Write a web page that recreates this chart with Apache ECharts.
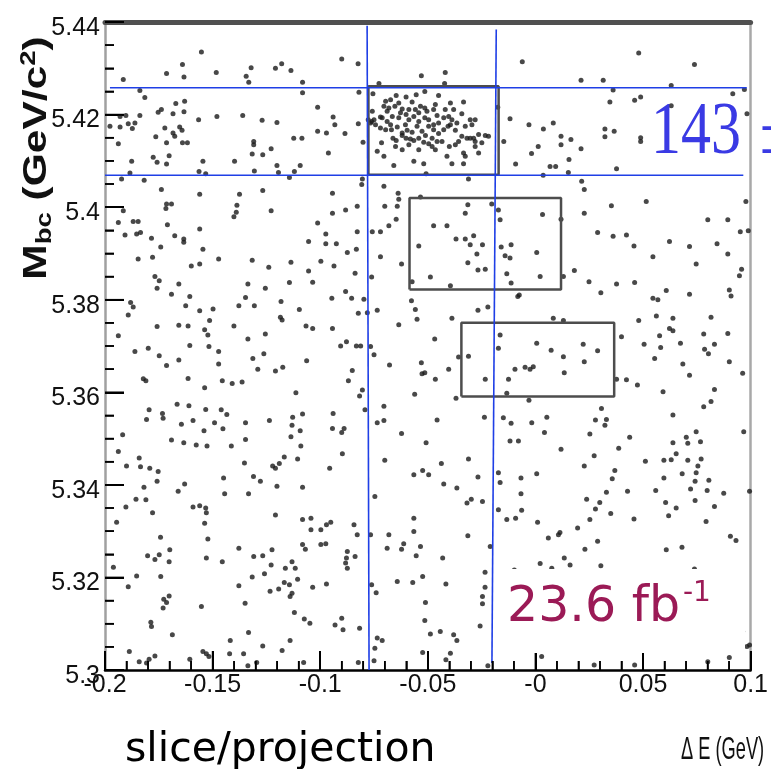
<!DOCTYPE html>
<html>
<head>
<meta charset="utf-8">
<script src="https://cdn.jsdelivr.net/npm/echarts@6/dist/echarts.min.js"></script>
<style>
  html, body { margin: 0; padding: 0; background: #fff; }
  #chart { width: 771px; height: 769px; }
</style>
</head>
<body>
<div id="chart"></div>
<script>
// B candidates: [ΔE (MeV), Mbc (MeV/c²)]
const sidebandUpperLeft = [
  [-155.2,5433.5],[-164.0,5430.8],[-171.4,5428.9],[-163.3,5428.1],[-148.3,5429.1],[-132.1,5430.1],[-134.4,5428.3],[-133.2,5427.0],
  [-120.8,5430.0],[-117.9,5431.0],[-113.6,5429.5],[-191.5,5427.6],[-108.2,5427.0],[-108.2,5424.7],[-183.8,5425.2],[-181.5,5423.7],
  [-101.2,5421.6],[-163.0,5422.9],[-163.3,5420.6],[-167.1,5422.4],[-173.8,5421.1],[-175.3,5420.5],[-168.4,5420.2],[-193.0,5419.6],
  [-190.3,5419.8],[-183.8,5419.8],[-156.5,5418.9],[-148.0,5419.6],[-136.0,5419.8],[-127.0,5418.8],[-120.1,5418.3],[-197.7,5417.5],
  [-193.0,5417.3],[-189.2,5418.0],[-186.1,5418.2],[-187.3,5417.0],[-172.2,5417.1],[-165.3,5417.3],[-164.2,5416.6],[-168.4,5416.0],
  [-167.6,5415.3],[-176.4,5415.2],[-171.4,5413.9],[-164.0,5413.9],[-161.7,5413.9],[-101.2,5416.4],[-112.3,5414.9],[-108.5,5414.9],
  [-193.8,5413.7],[-130.9,5414.2],[-130.9,5413.5],[-122.8,5412.6],[-126.7,5411.3],[-131.6,5411.5],[-177.6,5410.8],[-175.8,5409.7],
  [-170.2,5411.1],[-171.4,5409.3],[-187.6,5409.9],[-154.5,5409.9],[-139.8,5409.9],[-120.1,5409.0],[-119.4,5407.5],[-109.3,5409.0],
  [-112.0,5407.7],[-130.6,5407.8],[-156.3,5407.7],[-153.2,5407.2],[-188.4,5407.4],[-192.3,5406.1],[-181.8,5405.8],[-114.3,5406.4],
  [-173.8,5403.8],[-156.0,5402.8],[-126.7,5403.6],[-137.5,5402.8],[-171.4,5400.7],[-169.1,5400.7],[-171.7,5399.7],[-138.7,5400.4],
  [-139.0,5398.9],[-140.1,5397.9],[-122.8,5399.2],[-191.5,5399.2],[-193.8,5396.7],[-186.9,5396.9],[-184.6,5396.9],[-171.0,5396.2],
  [-156.0,5395.3],[-101.2,5396.6]
];
const sidebandUpperMid = [
  [-90.0,5432.0],[-82.4,5431.0],[-6.1,5431.4],[-53.0,5428.4],[-41.9,5429.1],[-42.2,5426.7],[-72.7,5426.7],[-82.0,5424.8],
  [-94.0,5419.5],[-93.2,5417.8],[-97.1,5416.0],[-88.5,5415.9],[-96.2,5411.7],[-82.3,5418.0],[-80.1,5414.0],[-11.8,5419.1],
  [-3.0,5417.8],[-14.7,5414.2],[1.3,5413.1],[-1.8,5411.6],[-9.2,5409.3],[-17.5,5421.6],[-50.8,5407.2],[-31.1,5406.1],
  [-80.4,5406.1],[-80.7,5404.9],[-94.3,5403.0],[-88.2,5399.4],[-94.3,5398.7],[-82.8,5400.2],[-70.4,5404.5],[-63.8,5403.0],
  [-63.5,5401.7],[-70.0,5400.2],[-64.2,5400.2],[-64.7,5397.4],[-68.1,5396.0],[-53.4,5402.2],[-47.3,5396.0],[-41.1,5396.0],
  [-32.6,5398.7],[-31.4,5400.5],[-20.3,5400.7],[-17.2,5399.4],[-16.4,5397.3]
];
const signalRegion = [
  [-75.5,5424.5],[-64.7,5424.1],[-60.1,5423.8],[-55.4,5424.3],[-51.4,5425.0],[-45.0,5424.1],[-39.5,5422.5],[-33.4,5422.7],
  [-69.6,5422.9],[-67.3,5423.2],[-63.5,5422.5],[-57.3,5422.7],[-70.4,5421.8],[-68.1,5421.4],[-65.3,5421.8],[-61.9,5421.2],
  [-58.8,5421.1],[-55.8,5421.1],[-53.4,5421.8],[-51.4,5421.4],[-50.4,5420.7],[-46.5,5422.2],[-41.9,5421.1],[-38.0,5421.1],
  [-34.2,5420.2],[-30.3,5418.9],[-28.0,5418.9],[-72.0,5419.5],[-75.0,5418.9],[-75.8,5420.7],[-71.2,5419.3],[-68.9,5418.5],
  [-66.5,5419.6],[-63.5,5419.3],[-60.1,5420.0],[-58.8,5418.9],[-56.5,5419.6],[-54.2,5418.5],[-51.4,5419.3],[-49.6,5418.9],
  [-47.3,5417.8],[-45.0,5418.2],[-42.6,5419.3],[-40.3,5419.6],[-38.8,5418.9],[-36.5,5418.2],[-32.6,5417.5],[-29.5,5417.8],
  [-74.3,5417.8],[-76.6,5418.2],[-72.0,5417.1],[-69.6,5416.7],[-66.9,5416.7],[-64.2,5417.3],[-61.9,5416.0],[-59.6,5416.6],
  [-57.3,5416.2],[-55.0,5417.5],[-52.7,5416.4],[-49.6,5417.5],[-47.3,5416.7],[-45.0,5415.9],[-42.6,5416.7],[-40.6,5417.5],
  [-37.2,5416.6],[-34.2,5415.3],[-31.8,5414.9],[-28.7,5414.9],[-26.4,5415.7],[-23.3,5415.5],[-21.8,5415.3],[-73.5,5412.1],
  [-71.5,5413.9],[-66.2,5414.9],[-64.7,5414.4],[-61.9,5415.5],[-60.1,5414.9],[-58.8,5413.5],[-56.5,5414.4],[-54.2,5414.9],
  [-51.9,5414.0],[-49.6,5413.7],[-48.0,5413.1],[-45.7,5414.2],[-43.4,5414.2],[-40.0,5413.1],[-37.2,5413.5],[-35.7,5414.2],
  [-33.4,5411.7],[-30.3,5414.9],[-28.0,5413.1],[-26.4,5411.7],[-24.9,5413.9],[-65.8,5409.0],[-56.5,5409.9],[-51.9,5409.4],
  [-38.8,5409.4],[-33.4,5409.4],[-32.6,5411.0],[-77.7,5418.9],[-76.1,5418.5],[-62.7,5420.4],[-54.2,5420.4],[-45.7,5419.8],
  [-67.3,5417.8],[-60.4,5417.8],[-51.1,5415.5],[-48.0,5414.9],[-58.1,5414.7],[-65.0,5413.1],[-61.9,5412.4],[-54.2,5412.4],
  [-41.1,5411.0],[-28.0,5414.2],[-68.9,5420.7],[-47.3,5421.1],[-39.5,5417.8],[-46.5,5412.4],[-70.4,5411.0]
];
const sidebandUpperRight = [
  [48.0,5433.3],[73.9,5430.8],[21.2,5427.4],[31.5,5427.4],[63.1,5426.3],[36.1,5425.3],[34.6,5422.7],[48.9,5423.8],
  [46.1,5423.1],[91.7,5424.5],[97.1,5425.4],[63.1,5421.9],[98.3,5420.2],[8.3,5418.2],[3.7,5416.9],[11.9,5415.3],
  [11.9,5413.5],[16.5,5414.6],[21.2,5412.6],[32.3,5416.9],[32.3,5415.2],[36.6,5416.4],[48.9,5415.0],[48.9,5414.2],
  [15.6,5410.3],[6.8,5408.8],[9.4,5408.8],[15.3,5407.5],[3.6,5406.9],[37.7,5408.3],[21.5,5405.6],[22.7,5403.8],
  [35.3,5400.3],[51.5,5401.2],[97.8,5401.2],[80.1,5397.3],[89.4,5397.3],[3.3,5398.4],[11.9,5397.4],[22.7,5398.7]
];
const sidebandMiddleLeft = [
  [-190.7,5394.0],[-185.3,5394.2],[-183.5,5394.5],[-178.4,5393.3],[-167.6,5393.8],[-163.4,5393.1],[-163.4,5392.4],[-105.4,5392.6],
  [-174.1,5391.4],[-154.5,5390.9],[-184.6,5388.8],[-177.9,5389.2],[-159.9,5387.3],[-156.0,5387.7],[-147.2,5388.8],[-131.6,5388.5],
  [-123.9,5387.0],[-113.6,5388.1],[-105.4,5386.2],[-176.8,5385.0],[-174.8,5384.1],[-175.8,5382.5],[-165.7,5383.4],[-169.1,5381.2],
  [-133.6,5383.4],[-125.5,5382.5],[-114.3,5383.7],[-103.5,5383.8],[-160.6,5380.7],[-162.5,5378.7],[-156.0,5377.6],[-149.8,5378.0],
  [-137.8,5378.7],[-130.6,5378.7],[-134.7,5380.5],[-118.2,5379.6],[-109.7,5377.9],[-188.1,5379.4],[-186.9,5378.4],[-189.2,5376.7],
  [-175.8,5374.2],[-165.7,5374.5],[-161.4,5374.3],[-151.4,5375.5],[-153.7,5373.5],[-152.2,5372.4],[-140.1,5374.3],[-133.6,5371.5],
  [-125.5,5372.6],[-118.5,5376.2],[-117.7,5375.6],[-106.6,5374.3],[-103.5,5373.8],[-193.8,5372.2],[-160.6,5370.1],[-151.7,5369.9],
  [-147.2,5368.8],[-147.2,5366.1],[-186.1,5368.8],[-179.9,5369.5],[-174.8,5367.9],[-165.7,5367.0],[-171.4,5365.8],[-131.3,5367.3],
  [-126.2,5368.3],[-117.4,5365.4],[-129.0,5365.0],[-120.8,5364.6],[-106.3,5366.8],[-182.2,5362.9],[-181.0,5362.5],[-161.4,5363.0],
  [-153.7,5361.0],[-145.5,5362.5],[-140.9,5361.9],[-136.3,5362.2],[-111.3,5359.9],[-166.5,5357.4],[-161.0,5357.1],[-153.2,5356.3],
  [-179.5,5356.2],[-180.7,5354.1],[-173.3,5355.4],[-173.0,5354.4],[-164.5,5353.1],[-159.1,5353.9],[-146.0,5356.2],[-143.4,5355.2],
  [-149.1,5353.4],[-145.2,5352.1],[-134.7,5353.4],[-134.7,5349.8],[-123.6,5353.9],[-112.8,5354.6],[-113.1,5352.9],[-108.2,5355.3],
  [-109.3,5351.7],[-113.6,5350.4],[-191.8,5350.8],[-154.0,5351.7],[-169.1,5349.7],[-163.4,5349.1],[-157.6,5348.6],[-152.6,5348.4],
  [-141.3,5348.4],[-109.0,5348.4]
];
const sidebandMiddle = [
  [-97.4,5394.2],[-97.4,5392.1],[-92.5,5392.1],[-87.4,5390.2],[-83.2,5390.9],[-99.7,5388.3],[-93.6,5387.3],[-83.8,5385.7],
  [-76.1,5384.9],[-72.0,5389.3],[-62.2,5387.7],[-82.8,5394.7],[-75.8,5394.7],[-72.0,5394.7],[-54.2,5391.6],[-36.9,5393.1],
  [-32.6,5393.1],[-30.3,5391.9],[-28.7,5393.8],[-24.6,5391.9],[-27.2,5389.9],[-31.4,5388.0],[-26.7,5386.4],[-23.3,5386.6],
  [-48.8,5384.9],[-57.3,5383.9],[-39.5,5383.0],[-15.9,5391.4],[-14.1,5389.5],[-11.3,5391.9],[-11.8,5389.0],[0.6,5390.2],
  [-13.3,5385.6],[-11.3,5383.6],[-8.2,5380.7],[-7.5,5381.0],[-94.6,5380.3],[-88.2,5381.8],[-85.4,5380.3],[-79.7,5380.1],
  [-82.3,5377.1],[-78.1,5377.2],[-73.5,5377.7],[-57.6,5379.8],[-55.8,5377.9],[-55.0,5375.8],[-26.7,5377.7],[-22.1,5378.4],
  [-38.8,5376.0],[-63.5,5374.6],[-94.3,5373.8],[-87.8,5370.9],[-90.5,5370.0],[-83.2,5370.0],[-81.2,5370.0],[-76.6,5369.9],
  [-75.0,5368.1],[-67.8,5365.9],[-85.1,5364.7],[-86.9,5362.5],[-80.4,5360.5],[-81.7,5359.2],[-79.2,5356.2],[-46.8,5371.5],
  [-53.0,5366.4],[-52.7,5364.0],[-51.4,5364.2],[-46.5,5362.8],[-40.3,5365.0],[-35.7,5367.6],[-31.1,5367.8],[-56.1,5359.6],
  [-36.9,5358.7],[-16.4,5372.4],[-17.2,5369.5],[-23.3,5362.8],[-12.5,5362.8],[-9.5,5365.0],[-4.8,5365.4],[-2.5,5365.0],
  [-1.0,5365.5],[0.6,5370.6],[-13.3,5359.8],[-3.0,5358.3],[-70.4,5357.0],[-70.4,5353.9],[-73.5,5353.4],[-62.2,5351.1],
  [-50.8,5349.1],[-45.7,5354.0],[-94.0,5355.4],[-94.3,5352.2],[-88.9,5352.2],[-90.0,5351.3],[-23.7,5354.6],[-14.9,5354.5],
  [-11.3,5353.3],[-1.7,5353.4],[-11.8,5349.5],[-7.9,5349.5]
];
const sidebandMiddleRight = [
  [28.9,5394.5],[36.1,5393.7],[42.3,5394.0],[45.8,5391.6],[62.3,5392.6],[71.6,5391.5],[84.4,5392.1],[89.4,5389.9],
  [95.2,5394.7],[98.9,5394.9],[54.6,5389.3],[74.7,5387.7],[95.8,5386.6],[94.8,5385.2],[18.1,5386.3],[24.9,5383.9],
  [37.7,5383.4],[46.1,5383.7],[30.4,5381.5],[60.8,5382.0],[71.6,5381.2],[90.1,5382.1],[90.9,5380.8],[54.6,5380.3],
  [56.9,5380.0],[13.0,5385.0],[2.2,5385.0],[8.3,5376.0],[13.0,5375.5],[48.0,5375.5],[56.2,5376.5],[63.9,5376.0],
  [81.6,5376.2],[62.3,5373.8],[63.9,5373.3],[40.0,5372.0],[57.7,5372.2],[50.5,5370.4],[58.2,5369.7],[67.4,5370.6],
  [78.2,5372.6],[89.4,5372.7],[83.2,5370.4],[78.6,5369.3],[80.4,5368.3],[55.4,5367.3],[68.5,5366.1],[71.6,5363.7],
  [90.1,5366.6],[96.3,5364.1],[7.3,5369.1],[13.0,5367.7],[22.2,5370.4],[28.9,5369.0],[22.7,5366.6],[13.4,5364.2],
  [37.7,5362.8],[42.3,5362.7],[47.4,5361.6],[59.3,5360.1],[83.2,5360.6],[81.6,5358.0],[78.2,5356.9],[30.7,5356.5],
  [27.9,5354.0],[33.0,5354.1],[32.3,5352.9],[5.3,5354.6],[4.2,5351.3],[25.3,5351.0],[43.8,5350.3],[63.9,5355.1],
  [74.7,5351.5],[70.1,5350.3],[70.8,5349.0],[76.7,5349.3],[63.9,5349.1],[96.8,5351.5],[11.9,5347.7],[38.7,5347.9]
];
const sidebandLowerLeft = [
  [-193.8,5347.2],[-184.1,5345.8],[-190.0,5344.1],[-183.5,5343.9],[-179.2,5343.6],[-175.3,5342.9],[-175.8,5340.8],[-181.9,5339.5],
  [-166.0,5338.6],[-163.0,5340.2],[-144.9,5341.5],[-144.4,5338.1],[-135.2,5344.7],[-131.0,5341.8],[-127.8,5340.8],[-133.3,5338.1],
  [-122.1,5344.1],[-120.8,5343.6],[-119.0,5344.6],[-116.7,5346.0],[-110.5,5345.6],[-120.1,5339.7],[-108.2,5339.5],[-185.6,5336.9],
  [-181.0,5336.8],[-190.3,5335.2],[-177.9,5334.0],[-159.1,5335.2],[-156.0,5335.5],[-153.2,5335.0],[-152.9,5334.0],[-153.7,5331.7],
  [-120.8,5333.5],[-108.2,5332.5],[-104.3,5332.8],[-194.6,5331.9],[-174.2,5328.7],[-152.2,5328.3],[-104.3,5330.3],[-108.2,5327.1],
  [-106.9,5326.1],[-169.9,5326.0],[-180.2,5324.7],[-176.8,5323.9],[-174.8,5324.9],[-170.2,5323.4],[-152.9,5324.2],[-145.5,5323.4],
  [-137.8,5326.3],[-130.9,5324.5],[-126.7,5324.7],[-122.4,5326.0],[-122.8,5322.7],[-113.1,5323.4],[-111.6,5322.0],[-116.2,5322.0],
  [-196.1,5322.2],[-185.3,5320.3],[-174.1,5320.2],[-189.2,5318.0],[-125.9,5320.8],[-131.6,5320.1],[-137.8,5318.2],[-116.7,5318.9],
  [-114.3,5318.4],[-110.5,5319.6],[-113.1,5316.6],[-114.0,5315.9],[-119.3,5317.5],[-123.3,5317.0],[-103.5,5317.9],[-172.7,5315.3],
  [-170.2,5316.0],[-171.4,5314.6],[-173.0,5313.4],[-155.2,5313.7],[-134.9,5314.4],[-178.7,5310.3],[-178.4,5309.4],[-168.7,5307.6],
  [-112.0,5312.4],[-107.4,5311.0],[-104.8,5310.1],[-133.3,5308.1],[-141.8,5306.4],[-114.0,5306.4],[-126.7,5305.2],[-117.7,5304.2],
  [-188.7,5304.0],[-176.8,5303.0],[-179.5,5302.3],[-184.1,5301.8],[-154.5,5304.0],[-152.9,5303.5],[-151.7,5302.9],[-142.1,5303.5],
  [-135.6,5303.5],[-129.5,5301.6],[-160.6,5302.3],[-107.7,5301.6],[-133.6,5300.9],[-180.7,5301.5]
];
const sidebandLowerMid = [
  [-89.7,5346.7],[-70.0,5345.3],[-95.6,5343.6],[-56.5,5342.2],[-52.4,5343.1],[-49.6,5342.2],[-43.7,5344.6],[-31.1,5345.6],
  [-26.7,5341.7],[-42.6,5340.2],[-36.5,5339.3],[-31.8,5336.1],[-29.8,5336.9],[-24.6,5336.4],[-17.2,5342.6],[-16.4,5340.5],
  [-6.7,5341.5],[-6.7,5338.1],[0.6,5342.4],[-17.2,5334.6],[-13.3,5332.5],[-9.2,5332.8],[-6.4,5334.5],[1.0,5331.9],
  [-74.6,5337.5],[-99.7,5330.3],[-97.1,5331.4],[-95.1,5331.9],[-97.4,5327.3],[-99.7,5327.1],[-84.3,5331.4],[-82.8,5329.2],
  [-87.4,5325.6],[-87.8,5324.2],[-87.4,5322.0],[-83.8,5324.5],[-88.2,5323.1],[-76.6,5329.2],[-68.1,5329.2],[-68.9,5326.3],
  [-62.2,5326.1],[-61.2,5327.3],[-56.5,5332.8],[-56.5,5329.9],[-53.4,5326.7],[-55.4,5324.7],[-43.1,5324.2],[-31.4,5329.0],
  [-21.0,5326.7],[-97.1,5318.6],[-76.1,5318.4],[-74.0,5316.7],[-64.2,5319.1],[-57.0,5318.9],[-52.4,5320.2],[-41.6,5318.6],
  [-23.4,5321.1],[-23.4,5317.9],[-24.6,5315.9],[-24.6,5314.3],[-51.1,5314.6],[-9.8,5321.6],[-90.0,5311.2],[-93.1,5309.7],
  [-89.4,5308.7],[-81.7,5309.0],[-51.4,5310.7],[-48.8,5307.8],[-44.2,5308.3],[-38.0,5307.6],[-36.5,5306.4],[-25.7,5309.5],
  [-73.5,5306.9],[-71.2,5306.4],[-74.6,5304.7],[-75.0,5302.0],[-52.4,5303.8],[-39.5,5303.6],[-41.6,5302.2],[-82.3,5301.6],
  [-22.1,5300.9]
];
const sidebandLowerRight = [
  [27.3,5346.3],[22.7,5344.1],[51.1,5345.1],[59.7,5345.3],[63.1,5345.4],[65.4,5346.7],[70.8,5345.3],[75.5,5344.1],
  [77.0,5345.6],[68.2,5342.4],[74.7,5342.6],[59.7,5341.5],[74.2,5340.8],[80.6,5341.0],[36.9,5343.1],[35.7,5341.3],
  [33.0,5338.4],[42.8,5338.6],[55.9,5338.8],[72.1,5339.1],[79.8,5338.8],[87.5,5338.2],[99.5,5338.6],[23.8,5336.9],
  [29.9,5336.2],[27.9,5334.8],[35.0,5333.8],[25.3,5332.5],[45.8,5332.6],[60.5,5336.2],[65.4,5335.0],[61.9,5333.3],
  [74.2,5336.6],[83.2,5335.3],[79.3,5332.1],[19.6,5330.7],[10.7,5329.2],[11.4,5329.7],[6.0,5328.5],[28.9,5327.8],
  [23.0,5326.1],[13.4,5324.2],[16.1,5322.7],[7.6,5322.0],[2.2,5323.0],[30.4,5322.5],[60.8,5326.0],[68.1,5326.5],
  [90.6,5328.9],[93.2,5328.0],[73.9,5321.8],[98.3,5305.1],[99.5,5305.4],[96.3,5308.3],[27.3,5301.1],[46.1,5301.1],
  [80.1,5301.8],[90.1,5302.7],[2.9,5302.9]
];

// Regions: [ΔE min, ΔE max, Mbc min, Mbc max] in GeV
const signalBox = [-0.0776, -0.0171, 5.4070, 5.4261];
const shiftedBoxA = [-0.0585, 0.0119, 5.3822, 5.4020];
const shiftedBoxB = [-0.0344, 0.0366, 5.3591, 5.3750];

// Slice cut lines: endpoints [ΔE, Mbc] in GeV
const deCutLow = [[-0.0782, 5.4392], [-0.0773, 5.3000]];
const deCutHigh = [[-0.0182, 5.4384], [-0.0202, 5.3015]];
const mbcCutHigh = [[-0.1977, 5.4258], [0.0982, 5.4258]];
const mbcCutLow = [[-0.2000, 5.4069], [0.0966, 5.4069]];

// Axis ranges, label steps and minor tick subdivisions
const xTicks = { min: -0.2, max: 0.1, step: 0.05, minorPerMajor: 5 };
const yTicks = { min: 5.3, max: 5.44, step: 0.02, minorPerMajor: 4 };

// Plot frame in pixels and tick lengths in pixels
const frame = { left: 105, right: 18, top: 22, bottom: 99 };
const tickLen = { major: 19, minor: 9 };

const candidates = [].concat(
  sidebandUpperLeft, sidebandUpperMid, signalRegion, sidebandUpperRight,
  sidebandMiddleLeft, sidebandMiddle, sidebandMiddleRight,
  sidebandLowerLeft, sidebandLowerMid, sidebandLowerRight
).map(([de, mbc]) => [de / 1000, mbc / 1000]);

function boxPath(b) {
  return [[b[0], b[2]], [b[1], b[2]], [b[1], b[3]], [b[0], b[3]], [b[0], b[2]]];
}

function outline(data, color, width) {
  return {
    type: 'line', data: data, symbol: 'none', silent: true, z: 4, clip: false,
    lineStyle: { color: color, width: width }, animation: false
  };
}

// Tick values along an axis: [value, isMajor]
function tickValues(t) {
  const minor = t.step / t.minorPerMajor;
  const n = Math.round((t.max - t.min) / minor);
  const out = [];
  for (let i = 0; i <= n; i++) out.push([t.min + i * minor, i % t.minorPerMajor === 0]);
  return out;
}

const tickFont = "'Liberation Sans', Arial, sans-serif";
const chart = echarts.init(document.getElementById('chart'), null, { renderer: 'canvas' });

const labelGraphics = [
  { type: 'rect', z: 100, shape: { x: 497, y: 569, width: 248, height: 84 }, style: { fill: '#ffffff' } },
  { type: 'text', z: 101, x: 507, y: 608,
    style: { text: '23.6 fb', fontSize: 49, fontFamily: "'DejaVu Sans', sans-serif", fill: '#9b1a56', align: 'left', verticalAlign: 'middle' } },
  { type: 'text', z: 101, x: 683, y: 594,
    style: { text: '-1', fontSize: 28, fontFamily: "'DejaVu Sans', sans-serif", fill: '#9b1a56', align: 'left', verticalAlign: 'middle' } },
  { type: 'text', z: 101, x: 651, y: 134, scaleY: 1.22,
    style: { text: '143', fontSize: 60, fontFamily: "'Liberation Serif', 'DejaVu Serif', serif", fill: '#3a3ae4', align: 'left', verticalAlign: 'middle' } },
  { type: 'text', z: 101, x: 760, y: 134, scaleY: 1.22,
    style: { text: '\u00b1', fontSize: 60, fontFamily: "'Liberation Serif', 'DejaVu Serif', serif", fill: '#3a3ae4', align: 'left', verticalAlign: 'middle' } },
  { type: 'text', z: 101, x: 125, y: 750,
    style: { text: 'slice/projection', fontSize: 41, fontFamily: "'DejaVu Sans', sans-serif", fill: '#000', align: 'left', verticalAlign: 'middle' } },
  { type: 'text', z: 101, x: 681, y: 750, scaleX: 0.57,
    style: { text: '\u0394 E (GeV)', fontSize: 32, fontFamily: "'Liberation Sans', Arial, sans-serif", fill: '#111', align: 'left', verticalAlign: 'middle' } },
  { type: 'text', z: 101, x: 37, y: 158, rotation: Math.PI / 2, scaleX: 1.25,
    style: {
      text: '{m|M}{s|bc}{m| (GeV/c}{p|2}{m|)}', align: 'center', verticalAlign: 'middle', fill: '#111',
      rich: {
        m: { fontSize: 34, fontWeight: 'bold', fontFamily: "'Liberation Sans', Arial, sans-serif", fill: '#111' },
        s: { fontSize: 22, fontWeight: 'bold', fontFamily: "'Liberation Sans', Arial, sans-serif", fill: '#111', padding: [16, 0, 0, 0] },
        p: { fontSize: 22, fontWeight: 'bold', fontFamily: "'Liberation Sans', Arial, sans-serif", fill: '#111', padding: [0, 0, 16, 0] }
      }
    } }
];

chart.setOption({
  animation: false,
  grid: { left: frame.left, right: frame.right, top: frame.top, bottom: frame.bottom },
  xAxis: [{
    type: 'value', position: 'bottom', min: xTicks.min, max: xTicks.max, interval: xTicks.step,
    axisLine: { onZero: false, lineStyle: { color: '#000', width: 2.5 } },
    axisTick: { show: true, inside: true, length: tickLen.major, lineStyle: { color: '#000', width: 2 } },
    minorTick: { show: true, splitNumber: xTicks.minorPerMajor, length: tickLen.minor, lineStyle: { color: '#000', width: 1.5 } },
    splitLine: { show: false },
    axisLabel: {
      margin: 3, color: '#111', fontSize: 25, fontFamily: tickFont,
      formatter: v => Math.abs(v) < 1e-9 ? '-0' : String(parseFloat(v.toFixed(2)))
    }
  }, {
    type: 'value', position: 'top', min: xTicks.min, max: xTicks.max,
    axisLine: { onZero: false, lineStyle: { color: '#505050', width: 5 } },
    axisTick: { show: false }, axisLabel: { show: false }, splitLine: { show: false }
  }],
  yAxis: [{
    type: 'value', position: 'left', min: yTicks.min, max: yTicks.max, interval: yTicks.step,
    axisLine: { show: true, onZero: false, lineStyle: { color: '#a0a0a0', width: 2.5 } },
    axisTick: { show: true, inside: true, length: tickLen.major, lineStyle: { color: '#000', width: 2 } },
    minorTick: { show: true, splitNumber: yTicks.minorPerMajor, length: tickLen.minor, lineStyle: { color: '#000', width: 1.5 } },
    splitLine: { show: false },
    axisLabel: {
      margin: 5, color: '#111', fontSize: 25, fontFamily: tickFont,
      verticalAlign: 'top', lineHeight: 12,
      formatter: v => String(parseFloat(v.toFixed(2)))
    }
  }, {
    type: 'value', position: 'right', min: yTicks.min, max: yTicks.max,
    axisLine: { show: true, onZero: false, lineStyle: { color: '#a8a8a8', width: 2.5 } },
    axisTick: { show: false }, axisLabel: { show: false }, splitLine: { show: false }
  }],
  series: [
    {
      type: 'scatter', data: candidates, symbol: 'circle', symbolSize: 5,
      itemStyle: { color: '#1a1a1a' }, z: 2, silent: true
    },
    outline(boxPath(signalBox), '#4d4d4d', 2.5),
    outline(boxPath(shiftedBoxA), '#4d4d4d', 2.5),
    outline(boxPath(shiftedBoxB), '#4d4d4d', 2.5),
    outline(deCutLow, '#1f3fe6', 1.6),
    outline(deCutHigh, '#1f3fe6', 1.6),
    outline(mbcCutHigh, '#1f3fe6', 1.6),
    outline(mbcCutLow, '#1f3fe6', 1.6)
  ],
  graphic: labelGraphics
});

// Inward ROOT-style ticks, positioned with the chart's own coordinate conversion
const tickGraphics = [];
tickValues(xTicks).forEach(([v, major]) => {
  const p = chart.convertToPixel({ gridIndex: 0 }, [v, yTicks.min]);
  const len = major ? tickLen.major : tickLen.minor;
  tickGraphics.push({ type: 'line', z: 90, silent: true,
    shape: { x1: p[0], y1: p[1], x2: p[0], y2: p[1] - len },
    style: { stroke: '#000', lineWidth: 1.6 } });
});
tickValues(yTicks).forEach(([v, major]) => {
  const p = chart.convertToPixel({ gridIndex: 0 }, [xTicks.min, v]);
  const len = major ? tickLen.major : tickLen.minor;
  tickGraphics.push({ type: 'line', z: 90, silent: true,
    shape: { x1: p[0], y1: p[1], x2: p[0] + len, y2: p[1] },
    style: { stroke: '#000', lineWidth: 1.6 } });
});
chart.setOption({ graphic: labelGraphics.concat(tickGraphics) });
</script>
</body>
</html>
